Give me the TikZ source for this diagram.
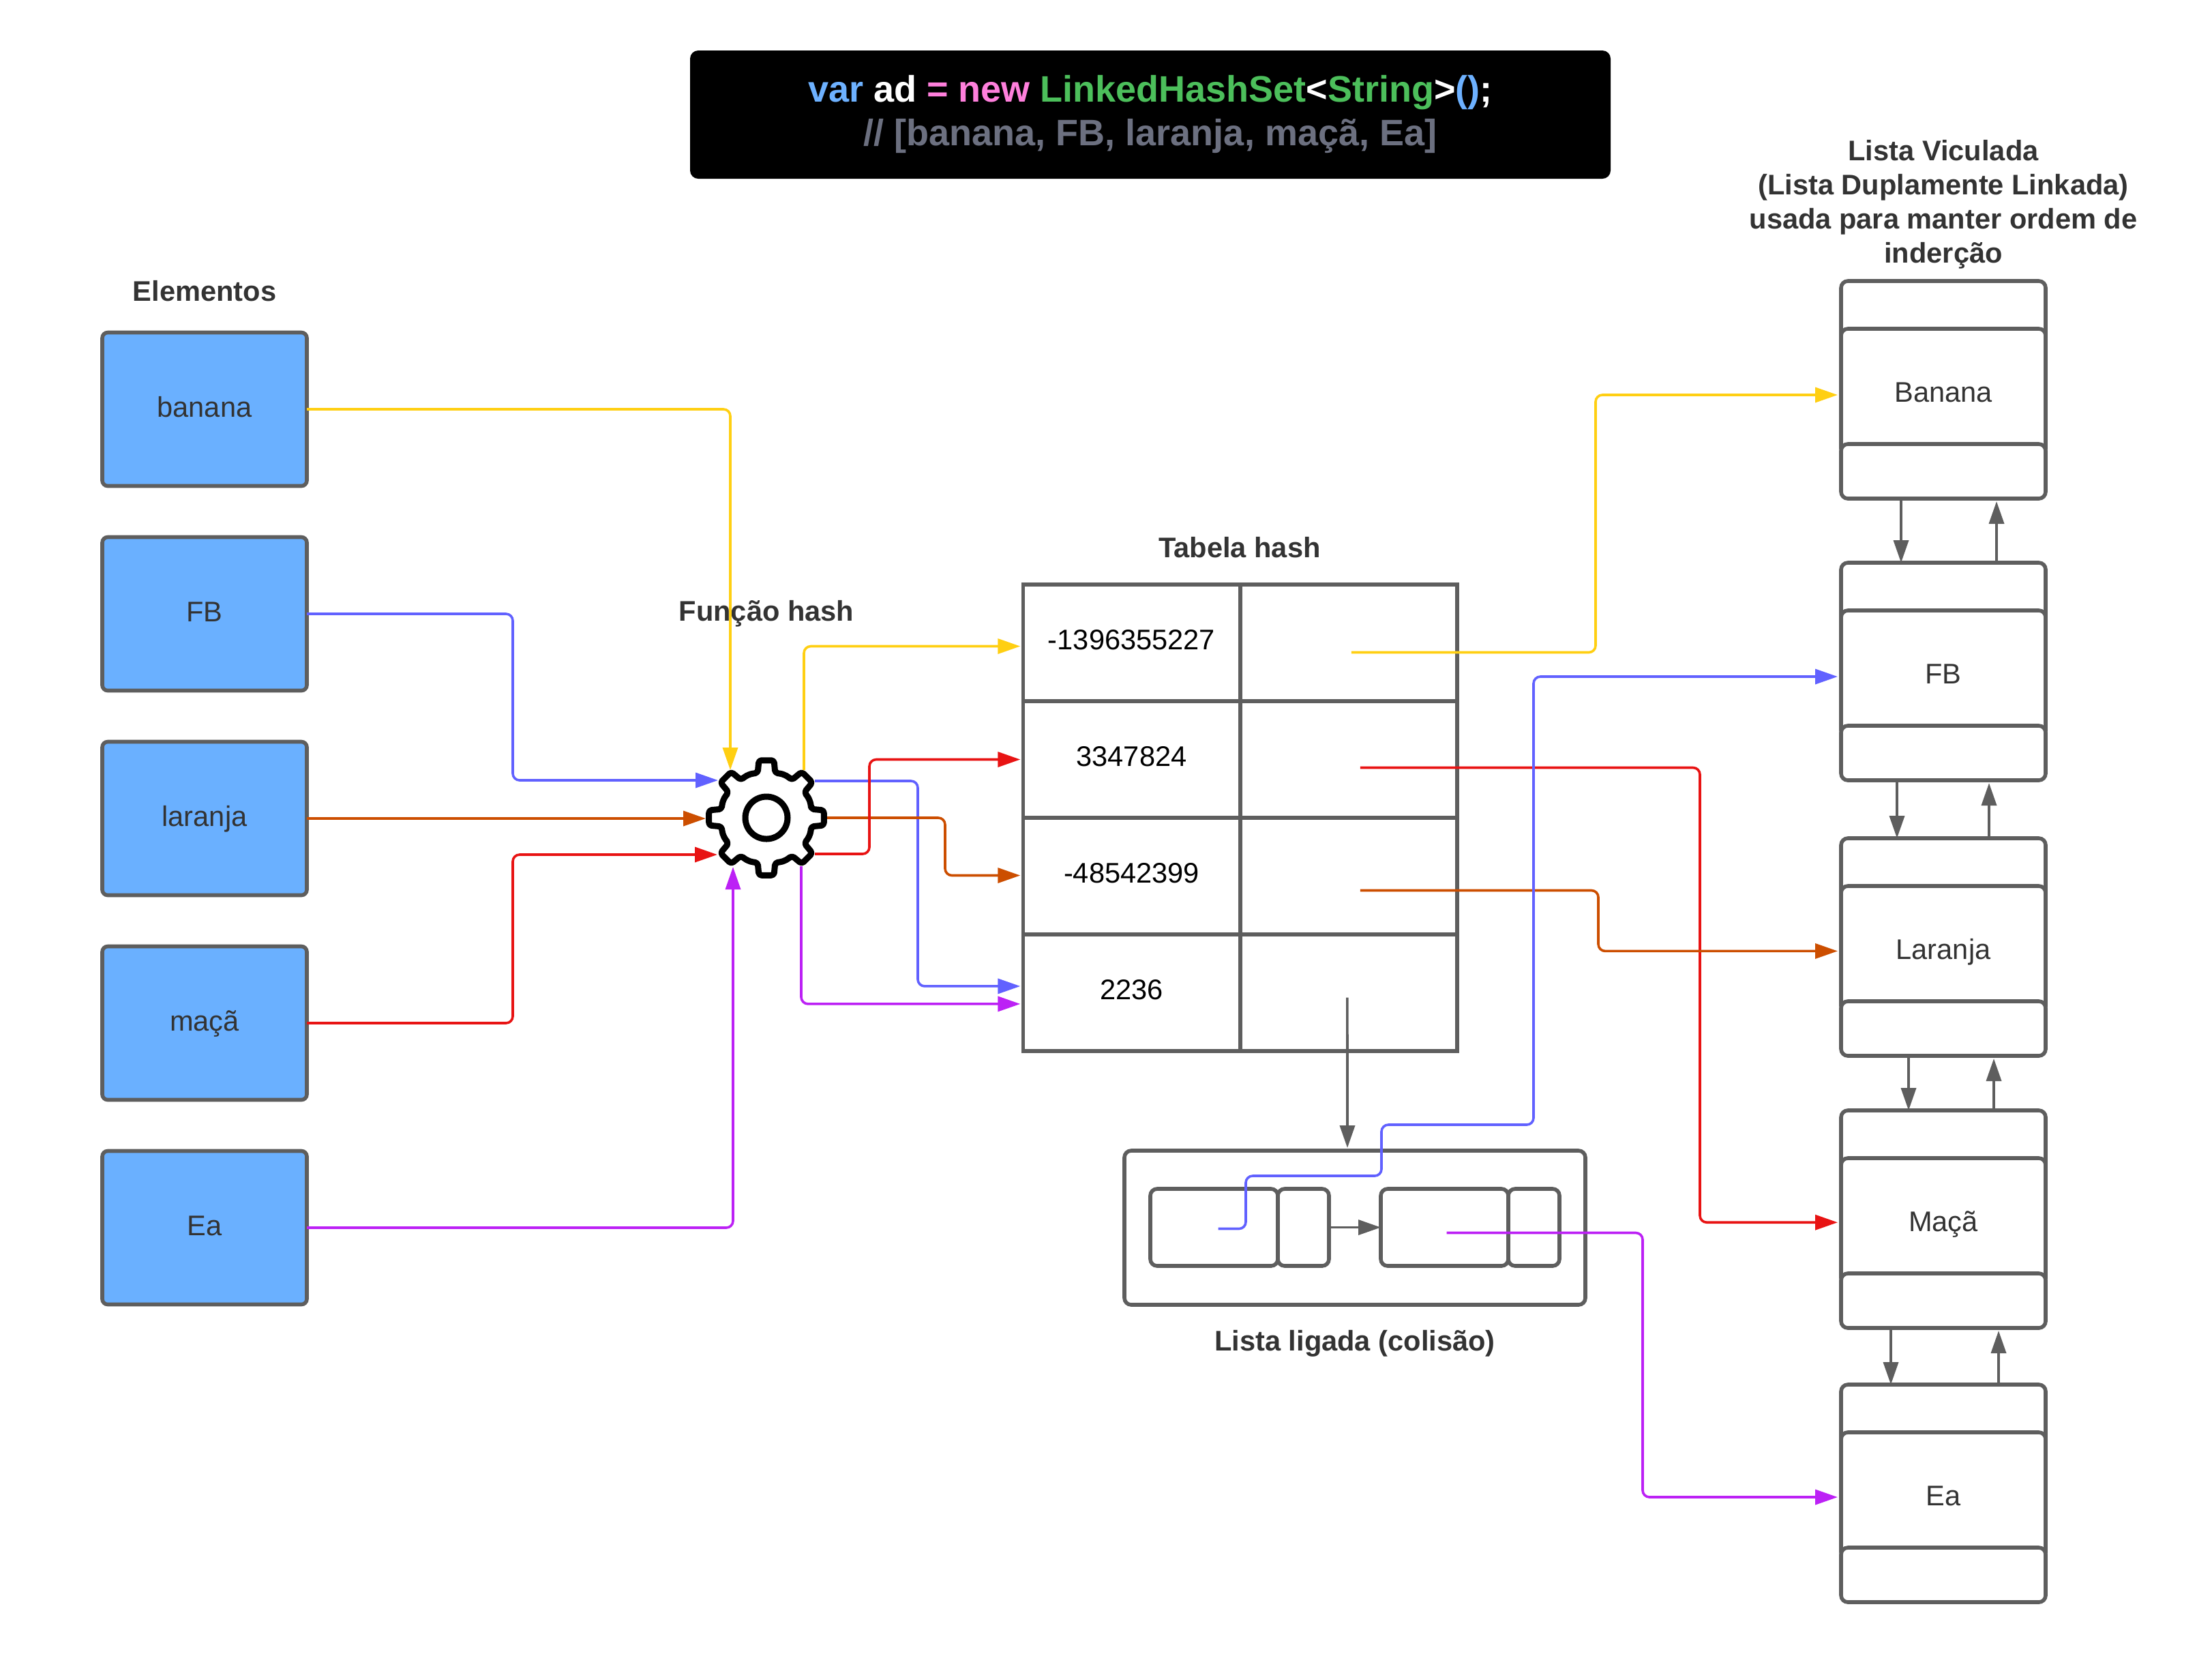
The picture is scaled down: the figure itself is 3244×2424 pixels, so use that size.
\documentclass[tikz,border=0pt]{standalone}
\usepackage{fontspec}
\setmainfont{Liberation Sans}
\usetikzlibrary{arrows.meta,positioning,calc}
\definecolor{elemfill}{RGB}{106,176,255}
\definecolor{boxedge}{RGB}{94,94,94}
\definecolor{labeltext}{RGB}{51,51,51}
\definecolor{lineyellow}{RGB}{255,207,18}
\definecolor{lineblue}{RGB}{97,97,255}
\definecolor{lineorange}{RGB}{204,78,0}
\definecolor{linered}{RGB}{232,19,19}
\definecolor{linepurple}{RGB}{188,33,245}
\definecolor{codeblue}{RGB}{109,177,255}
\definecolor{codepink}{RGB}{255,127,220}
\definecolor{codegreen}{RGB}{76,191,91}
\definecolor{codegray}{RGB}{108,112,128}

\begin{document}
\begin{tikzpicture}[
  x=0.25pt, y=-0.25pt,
  font=\fontsize{10.4}{12.5}\selectfont,
  >={Triangle[length=8.25pt,width=5.5pt]},
  every node/.style={align=center, outer sep=0pt, text=labeltext},
  element/.style={
      rectangle, rounded corners=2pt,
      draw=boxedge, line width=1.4pt,
      fill=elemfill,
      minimum width=75pt, minimum height=56.25pt,
      text height=8pt, text depth=2.5pt
  },
  cellbox/.style={
      rectangle, draw=boxedge, line width=1.4pt,
      minimum width=79.6pt, minimum height=42.75pt,
      text=black, text depth=2.5pt
  },
  listtop/.style={
      rectangle, rounded corners=2.5pt,
      draw=boxedge, line width=1.4pt, fill=white,
      minimum width=75pt, minimum height=22.5pt
  },
  listmid/.style={listtop, minimum height=46.5pt, text height=9.4pt, text depth=2pt},
  listbot/.style={listtop, minimum height=20pt},
  colbox/.style={
      rectangle, rounded corners=2.5pt,
      draw=boxedge, line width=1.4pt, fill=white
  },
  title/.style={font=\fontsize{10.4}{12.5}\selectfont\bfseries},
  arr/.style={->, rounded corners=2.5pt, line width=0.9pt},
  greyarr/.style={->, draw=boxedge, line width=0.9pt},
  gearline/.style={draw=black, line width=2.25pt, line join=round}
]
\path[use as bounding box, fill=white] (0,0) rectangle (3244,2424);

% code banner
\node[rectangle, rounded corners=3pt, fill=black, minimum width=337.5pt,
      minimum height=47pt, font=\fontsize{13.5}{16}\selectfont\bfseries] (code) at (1687,168)
  {\textcolor{codeblue}{var} \textcolor{white}{ad} \textcolor{codepink}{= new} \textcolor{codegreen}{LinkedHashSet}\textcolor{white}{<}\textcolor{codegreen}{String}\textcolor{white}{>}\textcolor{codeblue}{()}\textcolor{white}{;}\\
   \textcolor{codegray}{// [banana, FB, laranja, maçã, Ea]}};

% elements column
\node[element]              (banana)  at (300,600) {banana};
\node[element, below=18.75pt of banana]  (fb)      {FB};
\node[element, below=18.75pt of fb]      (laranja) {laranja};
\node[element, below=18.75pt of laranja] (maca)    {maçã};
\node[element, below=18.75pt of maca]    (ea)      {Ea};
\node[title] (elemtitle) at (300,427) {Elementos};

% hash function
\node[circle, minimum size=15.5pt, inner sep=0pt] (gear) at (1124,1199) {};
\node[title] (geartitle) at (1124,900) {Função hash};
\coordinate (inyellow) at ($(gear)+(-53,-70)$);
\coordinate (inblue)   at ($(gear)+(-71,-55)$);
\coordinate (inorange) at ($(gear)+(-89,1)$);
\coordinate (inred)    at ($(gear)+(-72,54)$);
\coordinate (inpurple) at ($(gear)+(-49,72)$);
\coordinate (outyellow) at ($(gear)+(55,-70)$);
\coordinate (outblue)   at ($(gear)+(71,-54)$);
\coordinate (outorange) at ($(gear)+(89,0)$);
\coordinate (outred)    at ($(gear)+(71,53)$);
\coordinate (outpurple) at ($(gear)+(51,71)$);

% hash table
\node[cellbox]                  (hashA) at (1659.5,942.5) {-1396355227};
\node[cellbox, right=0pt of hashA] (slotA) {};
\node[cellbox, below=0pt of hashA] (hashB) {3347824};
\node[cellbox, right=0pt of hashB] (slotB) {};
\node[cellbox, below=0pt of hashB] (hashC) {-48542399};
\node[cellbox, right=0pt of hashC] (slotC) {};
\node[cellbox, below=0pt of hashC] (hashD) {2236};
\node[cellbox, right=0pt of hashD] (slotD) {};
\node[title] (hashtitle) at (1818,803) {Tabela hash};
\coordinate (tapA) at ($(slotA.center)+(4,14)$);
\coordinate (tapB) at ($(slotB.center)+(17,12)$);
\coordinate (tapC) at ($(slotC.center)+(17,21)$);
\coordinate (tapD) at ($(slotD.center)+(-2,7)$);

% collision list
\node[colbox, minimum width=169pt, minimum height=56.5pt] (colist) at (1987,1800) {};
\node[colbox, minimum width=46.75pt, minimum height=28.25pt] (firstkey) at (1780.5,1799.5) {};
\node[colbox, minimum width=18.75pt, minimum height=28.25pt, right=0pt of firstkey] (firstptr) {};
\node[colbox, minimum width=46.75pt, minimum height=28.25pt] (nextkey) at (2118.5,1799.5) {};
\node[colbox, minimum width=18.75pt, minimum height=28.25pt, right=0pt of nextkey] (nextptr) {};
\node[title] (coltitle) at (1987,1970) {Lista ligada (colisão)};
\coordinate (tapfirst) at ($(firstkey.center)+(6,2)$);
\coordinate (tapnext)  at ($(nextkey.center)+(3,8)$);

% linked list column
\node[title] (listtitle) at (2850,300) {Lista Viculada\\(Lista Duplamente Linkada)\\usada para manter ordem de\\inderção};
\node[listtop]                         (bananaT) at (2850,457) {};
\node[listmid, below=-5pt of bananaT]  (bananaM) {Banana};
\node[listbot, below=-4.25pt of bananaM] (bananaB) {};
\node[listtop]                         (fbT) at (2850,870) {};
\node[listmid, below=-5pt of fbT]      (fbM) {FB};
\node[listbot, below=-4.25pt of fbM]   (fbB) {};
\node[listtop]                         (laranjaT) at (2850,1274) {};
\node[listmid, below=-5pt of laranjaT] (laranjaM) {Laranja};
\node[listbot, below=-4.25pt of laranjaM] (laranjaB) {};
\node[listtop]                         (macaT) at (2850,1673) {};
\node[listmid, below=-5pt of macaT]    (macaM) {Maçã};
\node[listbot, below=-4.25pt of macaM] (macaB) {};
\node[listtop]                         (eaT) at (2850,2075) {};
\node[listmid, below=-5pt of eaT]      (eaM) {Ea};
\node[listbot, below=-4.25pt of eaM]   (eaB) {};

% links between list cells
\draw[greyarr, shorten <=0.5pt] ([xshift=-15.5pt]bananaB.south) -- ([xshift=-15.5pt]fbT.north);
\draw[greyarr, shorten >=1pt]   ([xshift=19.5pt]fbT.north) -- ([xshift=19.5pt]bananaB.south);
\draw[greyarr, shorten <=0.5pt] ([xshift=-17pt]fbB.south) -- ([xshift=-17pt]laranjaT.north);
\draw[greyarr, shorten >=1pt]   ([xshift=16.75pt]laranjaT.north) -- ([xshift=16.75pt]fbB.south);
\draw[greyarr, shorten <=0.5pt] ([xshift=-12.75pt]laranjaB.south) -- ([xshift=-12.75pt]macaT.north);
\draw[greyarr, shorten >=1pt]   ([xshift=18.5pt]macaT.north) -- ([xshift=18.5pt]laranjaB.south);
\draw[greyarr, shorten <=0.5pt] ([xshift=-19.25pt]macaB.south) -- ([xshift=-19.25pt]eaT.north);
\draw[greyarr, shorten >=1pt]   ([xshift=20.25pt]eaT.north) -- ([xshift=20.25pt]macaB.south);

\draw[greyarr, shorten >=1pt] (tapD) -- ([xshift=-2.75pt]colist.north);
\draw[greyarr] (firstptr.east) -- (nextkey.west);

% element -> gear
\draw[arr, lineyellow] (banana.east) -| (inyellow);
\draw[arr, lineblue]   (fb.east) -- (752,900) |- (inblue);
\draw[arr, lineorange] (laranja.east) -- (inorange);
\draw[arr, linered]    (maca.east) -- (752,1500) |- (inred);
\draw[arr, linepurple] (ea.east) -| (inpurple);

% gear -> table
\draw[arr, lineyellow, shorten >=1pt] (outyellow) |- ([yshift=-1.25pt]hashA.west);
\draw[arr, lineblue, shorten >=1pt]   (outblue) -- (1346,1145) |- ([yshift=2.4pt]hashD.west);
\draw[arr, lineorange, shorten >=1pt] (outorange) -- (1386,1199) |- ([yshift=0.25pt]hashC.west);
\draw[arr, linered, shorten >=1pt]    (outred) -- (1275,1252) |- (hashB.west);
\draw[arr, linepurple, shorten >=1pt] (outpurple) |- ([yshift=-4.1pt]hashD.west);

% table -> list
\draw[arr, lineyellow, shorten >=1.25pt] (tapA) -- (2340,956.5) |- ([yshift=-1pt]bananaM.west);
\draw[arr, linered, shorten >=1.25pt]    (tapB) -- (2493,1125.5) |- ([yshift=-0.3pt]macaM.west);
\draw[arr, lineorange, shorten >=1.25pt] (tapC) -- (2344,1305.5) |- ([yshift=-0.6pt]laranjaM.west);
\draw[arr, lineblue, shorten >=1.25pt]   (tapfirst) -- (1827,1801.5) -- (1827,1724) -- (2026,1724)
     -- (2026,1649) -- (2249,1649) |- ([yshift=-1pt]fbM.west);
\draw[arr, linepurple, shorten >=1.25pt] (tapnext) -- (2409,1807.5) |- ([yshift=-0.5pt]eaM.west);

% gear drawn over the line ends
\node[circle, gearline, minimum size=15.5pt, inner sep=0pt] at (gear) {};
\begin{scope}[shift={(gear)}]
  \draw[gearline, rounded corners=1pt] (-11:67)
    \foreach \a in {0,45,...,315} {
      -- ({\a-7.5}:85) -- ({\a+7.5}:85) -- ({\a+11}:67)
      -- ({\a+17}:68) -- ({\a+22.5}:68.5) -- ({\a+28}:68) -- ({\a+34}:67)
    } -- cycle;
\end{scope}

\end{tikzpicture}
\end{document}
